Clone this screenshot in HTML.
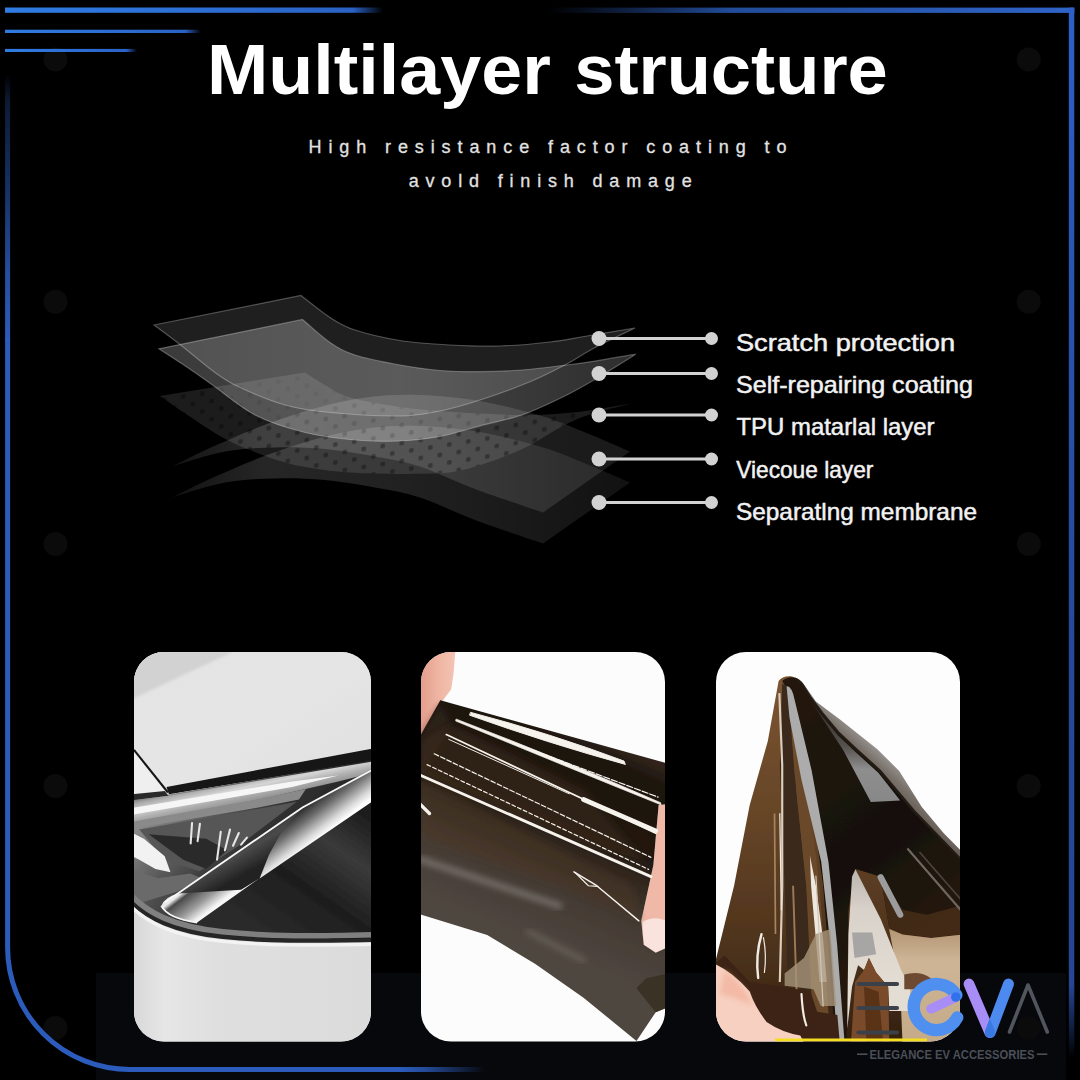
<!DOCTYPE html>
<html lang="en">
<head>
<meta charset="utf-8">
<title>Multilayer structure</title>
<style>
html,body{margin:0;padding:0;background:#000;}
body{width:1080px;height:1080px;overflow:hidden;position:relative;font-family:"Liberation Sans",sans-serif;}
svg{position:absolute;left:0;top:0;display:block;}
text{font-family:"Liberation Sans",sans-serif;}
</style>
</head>
<body>
<svg id="stage" width="1080" height="1080" viewBox="0 0 1080 1080">
<defs>
  <linearGradient id="gTopL" x1="0" x2="1" y1="0" y2="0"><stop offset="0" stop-color="#2f7ce2"/><stop offset="0.6" stop-color="#2d6cd2"/><stop offset="0.92" stop-color="#2a62c4"/><stop offset="1" stop-color="#2a62c4" stop-opacity="0"/></linearGradient>
  <linearGradient id="gTopR" x1="0" x2="1" y1="0" y2="0"><stop offset="0" stop-color="#2a5fc0" stop-opacity="0"/><stop offset="0.35" stop-color="#2a5fc0" stop-opacity="0.8"/><stop offset="1" stop-color="#2f64c8"/></linearGradient>
  <linearGradient id="gLeft" x1="0" x2="0" y1="0" y2="1"><stop offset="0" stop-color="#2b5cbc" stop-opacity="0"/><stop offset="0.1" stop-color="#2b5cbc" stop-opacity="0.28"/><stop offset="0.45" stop-color="#2b5cbc" stop-opacity="0.55"/><stop offset="0.75" stop-color="#2b5cbc" stop-opacity="0.85"/><stop offset="1" stop-color="#2b5cbc"/></linearGradient>
  <linearGradient id="gBot" x1="0" x2="1" y1="0" y2="0"><stop offset="0" stop-color="#2b5cbc"/><stop offset="0.3" stop-color="#2b5cbc" stop-opacity="0.8"/><stop offset="1" stop-color="#2b5cbc" stop-opacity="0"/></linearGradient>
  <linearGradient id="gRight" x1="0" x2="0" y1="0" y2="1"><stop offset="0" stop-color="#2e5fc8"/><stop offset="0.3" stop-color="#2a52ac"/><stop offset="0.6" stop-color="#27489a"/><stop offset="0.93" stop-color="#264694"/><stop offset="1" stop-color="#264694" stop-opacity="0"/></linearGradient>
  <clipPath id="c1"><rect x="134" y="652" width="237" height="389.500" rx="30" ry="30"/></clipPath>
  <clipPath id="c2"><rect x="421" y="652" width="244" height="389.500" rx="30" ry="30"/></clipPath>
  <clipPath id="c3"><rect x="716" y="652" width="244" height="389.500" rx="30" ry="30"/></clipPath>
</defs>

<!-- background -->
<rect width="1080" height="1080" fill="#000"/>
<rect x="96" y="973" width="970" height="107" fill="#07080c"/>

<!-- faint dots -->
<g fill="#0b0b0b">
  <circle cx="55.500" cy="59.5" r="12"/><circle cx="55.500" cy="301.8" r="12"/><circle cx="55.500" cy="544" r="12"/><circle cx="55.500" cy="786" r="12"/><circle cx="55.500" cy="1028" r="12"/>
  <circle cx="1028.700" cy="59.5" r="12"/><circle cx="1028.700" cy="301.8" r="12"/><circle cx="1028.700" cy="544" r="12"/><circle cx="1028.700" cy="786" r="12"/><circle cx="1028.700" cy="1028" r="12"/>
</g>

<!-- FRAME -->
<g id="frame">
  <rect x="5" y="7.500" width="378" height="5.300" fill="url(#gTopL)"/>
  <rect x="5" y="29.700" width="196" height="3.300" fill="url(#gTopL)"/>
  <rect x="5" y="48.900" width="132" height="3.100" fill="url(#gTopL)"/>
  <rect x="548" y="7.600" width="526.300" height="5.300" fill="url(#gTopR)"/>
  <rect x="1068.800" y="7.600" width="5.500" height="1051" fill="url(#gRight)"/>
  <rect x="5.100" y="74" width="5" height="268" fill="url(#gLeft)"/>
  <path d="M7.600 340 V947.500 A122 122 0 0 0 129.600 1069.500 H400" fill="none" stroke="#2b5cbc" stroke-width="5"/>
  <rect x="399" y="1067" width="86" height="5" fill="url(#gBot)"/>
</g>

<!-- TITLE -->
<text id="title" y="94" font-size="70" font-weight="700" fill="#fff"><tspan x="207" textLength="343.800" lengthAdjust="spacingAndGlyphs">Multilayer</tspan> <tspan x="574.200" textLength="313.600" lengthAdjust="spacingAndGlyphs">structure</tspan></text>
<text id="sub1" x="308.500" y="152.500" font-size="18" fill="#e2e2e2" stroke="#e2e2e2" stroke-width="0.300" textLength="478" lengthAdjust="spacing">High resistance factor coating to</text>
<text id="sub2" x="408.700" y="186.500" font-size="18" fill="#e2e2e2" stroke="#e2e2e2" stroke-width="0.300" textLength="283" lengthAdjust="spacing">avold finish damage</text>

<!-- LAYERS -->
<g id="layers">
<defs>
<pattern id="dots" x="0" y="0" width="19" height="18" patternUnits="userSpaceOnUse" patternTransform="translate(160 396) skewY(-9)">
 <rect width="19" height="18" fill="#fff" fill-opacity="0.11"/>
 <rect x="2" y="2" width="4.6" height="4.6" rx="1.5" fill="#000" fill-opacity="0.33"/>
 <rect x="11.5" y="11" width="4.6" height="4.6" rx="1.5" fill="#000" fill-opacity="0.33"/>
</pattern>
<linearGradient id="gL5" gradientUnits="userSpaceOnUse" x1="173" y1="0" x2="630" y2="0"><stop offset="0" stop-color="#fff" stop-opacity="0.07"/><stop offset="0.2" stop-color="#fff" stop-opacity="0.15"/><stop offset="0.5" stop-color="#fff" stop-opacity="0.13"/><stop offset="1" stop-color="#fff" stop-opacity="0.07"/></linearGradient>
<linearGradient id="gL4" gradientUnits="userSpaceOnUse" x1="173" y1="0" x2="630" y2="0"><stop offset="0" stop-color="#fff" stop-opacity="0.08"/><stop offset="0.2" stop-color="#fff" stop-opacity="0.16"/><stop offset="0.5" stop-color="#fff" stop-opacity="0.13"/><stop offset="1" stop-color="#fff" stop-opacity="0.10"/></linearGradient>
<linearGradient id="gL2" gradientUnits="userSpaceOnUse" x1="160" y1="0" x2="636" y2="0"><stop offset="0" stop-color="#fff" stop-opacity="0.23"/><stop offset="0.5" stop-color="#fff" stop-opacity="0.27"/><stop offset="1" stop-color="#fff" stop-opacity="0.18"/></linearGradient>
<filter id="soft" x="-5%" y="-5%" width="110%" height="110%"><feGaussianBlur stdDeviation="0.6"/></filter>
</defs>
<g filter="url(#soft)">
<path d="M173.0 497.0 C181.7 494.6 208.0 485.6 225.0 482.5 C242.0 479.4 258.3 478.9 275.0 478.5 C291.7 478.1 308.3 478.5 325.0 480.0 C341.7 481.5 359.2 484.6 375.0 487.5 C390.8 490.4 403.3 492.1 420.0 497.5 C436.7 502.9 454.5 512.3 475.0 520.0 C495.5 527.7 531.7 539.6 543.0 543.5 L630.0 482.5 C622.2 479.2 597.5 468.3 583.0 462.5 C568.5 456.7 560.2 452.6 543.0 447.5 C525.8 442.4 500.5 435.6 480.0 432.0 C459.5 428.4 438.3 426.7 420.0 426.0 C401.7 425.3 386.7 426.0 370.0 428.0 C353.3 430.0 337.2 433.5 320.0 438.0 C302.8 442.5 285.0 448.3 267.0 455.0 C249.0 461.7 227.7 471.0 212.0 478.0 C196.3 485.0 179.5 493.8 173.0 497.0 Z" fill="url(#gL5)"/>
<path d="M173.0 466.0 C181.7 463.6 208.0 454.6 225.0 451.5 C242.0 448.4 258.3 447.9 275.0 447.5 C291.7 447.1 308.3 447.5 325.0 449.0 C341.7 450.5 359.2 453.6 375.0 456.5 C390.8 459.4 403.3 461.1 420.0 466.5 C436.7 471.9 454.5 481.3 475.0 489.0 C495.5 496.7 531.7 508.6 543.0 512.5 L630.0 451.5 C622.2 448.2 597.5 437.3 583.0 431.5 C568.5 425.7 560.2 421.6 543.0 416.5 C525.8 411.4 500.5 404.6 480.0 401.0 C459.5 397.4 438.3 395.7 420.0 395.0 C401.7 394.3 386.7 395.0 370.0 397.0 C353.3 399.0 337.2 402.5 320.0 407.0 C302.8 411.5 285.0 417.3 267.0 424.0 C249.0 430.7 227.7 440.0 212.0 447.0 C196.3 454.0 179.5 462.8 173.0 466.0 Z" fill="url(#gL4)"/>
<path d="M160.0 396.0 L305.0 372.5 C308.3 374.6 317.5 380.8 325.0 385.0 C332.5 389.2 337.5 393.8 350.0 397.5 C362.5 401.2 385.0 404.8 400.0 407.0 C415.0 409.2 426.7 409.9 440.0 411.0 C453.3 412.1 465.0 412.8 480.0 413.5 C495.0 414.2 513.3 415.3 530.0 415.0 C546.7 414.7 563.0 413.6 580.0 411.7 C597.0 409.8 623.1 404.7 631.7 403.3 C622.2 406.1 593.6 412.2 575.0 420.0 C556.4 427.8 538.8 441.7 520.0 450.0 C501.2 458.3 479.2 466.0 462.5 470.0 C445.8 474.0 438.8 473.3 420.0 473.8 C401.2 474.2 370.0 473.8 350.0 472.5 C330.0 471.2 314.6 468.9 300.0 466.0 C285.4 463.1 275.0 459.5 262.5 455.0 C250.0 450.5 237.5 445.4 225.0 438.8 C212.5 432.1 198.3 422.1 187.5 415.0 C176.7 407.9 164.6 399.2 160.0 396.0 Z" fill="url(#dots)"/>
<path d="M158.8 348.8 L302.5 319.5 C307.1 323.3 321.2 336.6 330.0 342.5 C338.8 348.4 343.3 351.2 355.0 355.0 C366.7 358.8 385.8 362.4 400.0 365.0 C414.2 367.6 426.7 369.4 440.0 370.5 C453.3 371.6 466.4 371.8 480.0 371.7 C493.6 371.6 507.3 371.1 521.7 370.0 C536.2 368.9 554.2 366.5 566.7 365.0 C579.2 363.5 585.2 362.6 596.7 360.8 C608.2 359.0 629.3 355.3 635.8 354.2 C629.3 358.2 608.8 371.2 596.7 378.3 C584.6 385.4 575.8 390.6 563.3 396.7 C550.8 402.8 535.6 410.1 521.7 415.0 C507.8 419.9 493.6 422.2 480.0 425.8 C466.4 429.4 453.3 434.0 440.0 436.5 C426.7 439.0 414.2 440.4 400.0 441.0 C385.8 441.6 370.8 441.4 355.0 440.0 C339.2 438.6 321.7 436.7 305.0 432.5 C288.3 428.3 270.4 422.9 255.0 415.0 C239.6 407.1 223.8 392.9 212.5 385.0 C201.2 377.1 196.5 373.5 187.5 367.5 C178.5 361.5 163.5 351.9 158.8 348.8 Z" fill="url(#gL2)" stroke="#fff" stroke-opacity="0.28" stroke-width="1.2"/>
<path d="M154.0 325.0 L301.0 295.5 C305.8 299.2 321.0 311.8 330.0 317.5 C339.0 323.2 343.3 326.2 355.0 330.0 C366.7 333.8 384.2 338.0 400.0 340.5 C415.8 343.0 433.3 344.1 450.0 345.0 C466.7 345.9 483.3 346.5 500.0 346.0 C516.7 345.5 535.5 343.7 550.0 342.0 C564.5 340.3 572.8 338.3 587.0 336.0 C601.2 333.7 627.0 329.3 635.0 328.0 C628.3 331.2 606.4 341.5 595.0 347.5 C583.6 353.5 577.5 358.3 566.7 364.0 C555.9 369.7 544.5 375.7 530.0 381.7 C515.5 387.7 495.0 395.1 480.0 400.0 C465.0 404.9 453.3 408.3 440.0 411.0 C426.7 413.7 418.3 415.8 400.0 416.0 C381.7 416.2 349.2 414.3 330.0 412.5 C310.8 410.7 300.0 409.2 285.0 405.0 C270.0 400.8 251.7 392.9 240.0 387.5 C228.3 382.1 225.0 379.7 215.0 372.5 C205.0 365.3 190.2 352.4 180.0 344.5 C169.8 336.6 158.3 328.2 154.0 325.0 Z" fill="#fff" fill-opacity="0.12" stroke="#fff" stroke-opacity="0.28" stroke-width="1.2"/>
</g>
</g>


<!-- CONNECTORS -->
<g id="conn" stroke="#d2d2d2" stroke-width="3" fill="#d2d2d2">
  <line x1="599" y1="338.500" x2="711" y2="338.500"/><circle cx="599" cy="338.500" r="7.500" stroke="none"/><circle cx="711.500" cy="338.500" r="6.500" stroke="none"/>
  <line x1="599" y1="373.500" x2="711" y2="373.500"/><circle cx="599" cy="373.500" r="7.500" stroke="none"/><circle cx="711.500" cy="373.500" r="6.500" stroke="none"/>
  <line x1="599" y1="415" x2="711" y2="415"/><circle cx="599" cy="415" r="7.500" stroke="none"/><circle cx="711.500" cy="415" r="6.500" stroke="none"/>
  <line x1="599" y1="459" x2="711" y2="459"/><circle cx="599" cy="459" r="7.500" stroke="none"/><circle cx="711.500" cy="459" r="6.500" stroke="none"/>
  <line x1="599" y1="502.500" x2="711" y2="502.500"/><circle cx="599" cy="502.500" r="7.500" stroke="none"/><circle cx="711.500" cy="502.500" r="6.500" stroke="none"/>
</g>

<!-- LABELS -->
<g id="labels" font-size="24" fill="#f2f2f2" stroke="#f2f2f2" stroke-width="0.500">
  <text x="736" y="351" textLength="219" lengthAdjust="spacingAndGlyphs">Scratch protection</text>
  <text x="736" y="392.500" textLength="237" lengthAdjust="spacingAndGlyphs">Self-repairing coating</text>
  <text x="736.500" y="434.500" textLength="198" lengthAdjust="spacingAndGlyphs">TPU matarlal layer</text>
  <text x="736.300" y="478" textLength="137" lengthAdjust="spacingAndGlyphs">Viecoue layer</text>
  <text x="736" y="519.500" textLength="241" lengthAdjust="spacingAndGlyphs">Separatlng membrane</text>
</g>

<!-- CARD 1 -->
<g id="card1" clip-path="url(#c1)">
  <defs>
    <linearGradient id="c1body" x1="0" y1="0" x2="1" y2="1"><stop offset="0" stop-color="#e4e4e4"/><stop offset="0.5" stop-color="#e5e5e5"/><stop offset="1" stop-color="#dedede"/></linearGradient>
    <linearGradient id="c1bump" x1="0" y1="0" x2="1" y2="0"><stop offset="0" stop-color="#d6d6d6"/><stop offset="0.14" stop-color="#e6e6e6"/><stop offset="0.35" stop-color="#dfdfdf"/><stop offset="1" stop-color="#dbdbdb"/></linearGradient>
    <linearGradient id="c1lamp" gradientUnits="userSpaceOnUse" x1="100" y1="350" x2="700" y2="900"><stop offset="0" stop-color="#8a8a8a"/><stop offset="0.25" stop-color="#5a5a5a"/><stop offset="0.5" stop-color="#303030"/><stop offset="1" stop-color="#1c1c1c"/></linearGradient>
    <linearGradient id="c1chrome" gradientUnits="userSpaceOnUse" x1="500" y1="190" x2="530" y2="330"><stop offset="0" stop-color="#6c6c6c"/><stop offset="0.18" stop-color="#a8a8a8"/><stop offset="0.4" stop-color="#d6d6d6"/><stop offset="0.62" stop-color="#b0b0b0"/><stop offset="1" stop-color="#7c7c7c"/></linearGradient>
    <linearGradient id="c1rib" gradientUnits="userSpaceOnUse" x1="700" y1="330" x2="830" y2="500"><stop offset="0" stop-color="#f4f4f4"/><stop offset="0.08" stop-color="#f4f4f4"/><stop offset="0.16" stop-color="#2c2c2c"/><stop offset="0.4" stop-color="#6e6e6e"/><stop offset="0.7" stop-color="#d8d8d8"/><stop offset="0.85" stop-color="#ffffff"/><stop offset="1" stop-color="#f0f0f0"/></linearGradient>
    <linearGradient id="c1rib2" gradientUnits="userSpaceOnUse" x1="230" y1="700" x2="330" y2="830"><stop offset="0" stop-color="#e8e8e8"/><stop offset="0.12" stop-color="#4a4a4a"/><stop offset="0.5" stop-color="#9a9a9a"/><stop offset="0.8" stop-color="#f4f4f4"/><stop offset="1" stop-color="#ffffff"/></linearGradient>
    <linearGradient id="c1inner" gradientUnits="userSpaceOnUse" x1="380" y1="480" x2="470" y2="640"><stop offset="0" stop-color="#2a2a2a"/><stop offset="0.5" stop-color="#4a4a4a"/><stop offset="1" stop-color="#222"/></linearGradient>
    <linearGradient id="c1dark" gradientUnits="userSpaceOnUse" x1="1000" y1="330" x2="600" y2="900"><stop offset="0" stop-color="#1a1a1a"/><stop offset="0.3" stop-color="#3a3a3a"/><stop offset="0.6" stop-color="#1e1e1e"/><stop offset="1" stop-color="#2a2a2a"/></linearGradient>
    <filter id="b1" x="-5%" y="-5%" width="110%" height="110%"><feGaussianBlur stdDeviation="2.4"/></filter>
    <filter id="b1s" x="-5%" y="-5%" width="110%" height="110%"><feGaussianBlur stdDeviation="6"/></filter>
  </defs>
  <rect x="134" y="652" width="237" height="390" fill="#e0e0e0"/>
  <g transform="translate(130 730) scale(0.231481)">
    <!-- body upper -->
    <rect x="0" y="-340" width="1060" height="700" fill="url(#c1body)"/>
    <path d="M0 -340 L450 -340 L0 -130 Z" fill="#d2d2d2" filter="url(#b1s)"/>
    <!-- bumper -->
    <rect x="0" y="700" width="1060" height="660" fill="url(#c1bump)"/>
    <g filter="url(#b1)">
      <!-- fender (left of hood edge) -->
      <path d="M0 60 L17 88 L160 268 L150 300 L0 310 Z" fill="#efefef"/>
      <!-- hood gap dark band -->
      <path d="M158 246 L1060 78 L1060 132 L168 278 Z" fill="#151515"/>
      <path d="M17 86 L164 270" stroke="#161616" stroke-width="9" fill="none"/>
      <!-- lamp body -->
      <path d="M0 300 L160 280 L1060 128 L1060 905 C800 912 600 915 400 893 C190 870 70 812 -10 725 Z" fill="url(#c1lamp)"/>
      <!-- top-left dark strip of lamp -->
      <path d="M0 278 L150 264 L166 284 L0 306 Z" fill="#2a2a2a"/>
      <!-- chrome band -->
      <path d="M0 305 L166 284 L1060 134 L1060 182 L900 222 L560 300 L0 405 Z" fill="url(#c1chrome)"/>
      <path d="M0 338 L700 222 L900 197 L700 246 L0 368 Z" fill="#f6f6f6"/>
      <path d="M0 398 L560 298 L760 255 L730 300 L500 345 L0 428 Z" fill="#8a8a8a"/>
      <!-- interior mid-grey left zone -->
      <path d="M40 430 L500 350 L720 310 L470 500 L300 610 L150 560 Z" fill="#575757"/>
      <path d="M80 450 L330 470 L420 520 L330 600 L230 560 Z" fill="#2c2c2c"/>
      <!-- left white reflection blob -->
      <path d="M0 440 L60 470 L150 545 L175 615 L110 600 L40 560 L0 540 Z" fill="#f2f2f2"/>
      <path d="M0 600 L120 640 L260 620 L310 640 L200 700 L0 760 Z" fill="#6a6a6a"/>
      <!-- little vertical strokes -->
      <g stroke="#e6e6e6" stroke-width="9" fill="none" stroke-linecap="round">
        <path d="M268 402 L262 490"/><path d="M302 405 L292 480"/>
        <path d="M392 440 L376 560"/><path d="M432 430 L410 520"/><path d="M470 445 L445 500"/><path d="M505 465 L480 495"/>
      </g>
      <!-- dark right/lower lens zone -->
      <path d="M560 640 L1060 300 L1060 890 C800 895 600 895 400 876 L300 855 L280 830 Z" fill="url(#c1dark)"/>
      <!-- film inner (dark) surface -->
      <path d="M200 705 L745 335 L640 470 L560 640 L480 690 Z" fill="url(#c1inner)"/>
      <!-- wide bright ribbon -->
      <path d="M560 642 L600 540 L660 430 L750 332 L1060 160 L1060 300 Z" fill="url(#c1rib)"/>
      <!-- lower-left ribbon -->
      <path d="M135 760 Q150 720 210 706 L480 690 L560 640 L290 832 Q160 815 135 760 Z" fill="url(#c1rib2)"/>
      <!-- white edge lines -->
      <path d="M150 745 L745 335 L1060 165" stroke="#f8f8f8" stroke-width="8" fill="none"/>
      <path d="M135 760 Q165 815 290 832" stroke="#f4f4f4" stroke-width="8" fill="none"/>
      <!-- bottom rim -->
      <path d="M-10 700 C70 790 190 850 400 872 S800 890 1060 884" stroke="#808080" stroke-width="24" fill="none"/>
      <path d="M-10 728 C70 815 190 873 400 895 S800 912 1060 908" stroke="#262626" stroke-width="16" fill="none"/>
      <path d="M-10 748 C70 834 190 892 400 913 S800 930 1060 926" stroke="#f3f3f3" stroke-width="14" fill="none"/>
    </g>
  </g>
</g>

<!-- CARD 2 -->
<g id="card2" clip-path="url(#c2)">
  <defs>
    <linearGradient id="c2film" gradientUnits="userSpaceOnUse" x1="620" y1="330" x2="270" y2="1130"><stop offset="0" stop-color="#30241a"/><stop offset="0.08" stop-color="#1d150f"/><stop offset="0.42" stop-color="#211811"/><stop offset="0.55" stop-color="#33291f"/><stop offset="0.72" stop-color="#433a32"/><stop offset="1" stop-color="#4e463f"/></linearGradient>
    <linearGradient id="c2skin" x1="0" y1="0" x2="1" y2="0"><stop offset="0" stop-color="#e39c8a"/><stop offset="0.5" stop-color="#efb4a2"/><stop offset="1" stop-color="#f3c4b4"/></linearGradient>
    <filter id="b2" x="-5%" y="-5%" width="110%" height="110%"><feGaussianBlur stdDeviation="3"/></filter>
    <filter id="b2s" x="-10%" y="-10%" width="120%" height="120%"><feGaussianBlur stdDeviation="14"/></filter>
  </defs>
  <rect x="421" y="652" width="244" height="390" fill="#fcfcfc"/>
  <g transform="translate(415 645) scale(0.240741)">
    <g filter="url(#b2)">
      <!-- top-left finger -->
      <path d="M20 20 L168 20 L160 120 L150 185 L108 240 L20 380 Z" fill="url(#c2skin)"/>
      <!-- right finger -->
      <path d="M1050 640 L1012 665 L1000 800 L990 915 L940 1145 L950 1245 L1000 1278 L1050 1255 Z" fill="#f0b8a6"/>
      <path d="M945 1150 Q1000 1120 1050 1150 L1050 1255 L1000 1278 L950 1245 Z" fill="#f9e3dc"/>
      <!-- film -->
      <path d="M105 230 L1050 492 L1050 660 L1012 665 L1000 800 L990 915 L940 1145 L950 1245 L1000 1278 L1050 1255 L1050 1505 L1000 1525 L920 1645 L700 1465 L500 1325 L300 1205 L20 1118 L20 380 Z" fill="url(#c2film)"/>
      <!-- brown sheen in lower-left upper area -->
      <path d="M20 560 L500 800 L900 1000 L940 1145 L600 1000 L20 800 Z" fill="#4a3424" fill-opacity="0.45" filter="url(#b2s)"/>
      <path d="M20 380 L105 240 L150 330 L20 560 Z" fill="#3a2a1e" fill-opacity="0.5" filter="url(#b2s)"/>
      <path d="M60 380 L160 330 L700 600 L960 900 L700 820 L20 540 L20 420 Z" fill="#4a3220" fill-opacity="0.35" filter="url(#b2s)"/>
      <!-- notch -->
      <path d="M920 1425 L960 1385 L1050 1365 L1050 1505 L1000 1525 L935 1445 Z" fill="#3a3028"/>
      <!-- crease band -->
      <path d="M20 890 L600 1083" stroke="#9a9894" stroke-opacity="0.55" stroke-width="26" fill="none" stroke-linecap="round" filter="url(#b2s)"/>
      <path d="M470 1190 L700 1310" stroke="#8a8680" stroke-opacity="0.4" stroke-width="22" fill="none" stroke-linecap="round" filter="url(#b2s)"/>
      <!-- streaks -->
      <g stroke="#f6f2ec" fill="none" stroke-linecap="round">
        <path d="M232 280 Q560 366 868 482 L874 496 Q560 410 228 292 Z" stroke-width="4" stroke-linejoin="round" fill="#f6f2ec"/>
        <path d="M172 308 Q640 488 1020 655 L1022 664 Q640 510 170 316 Z" stroke-width="3" stroke-linejoin="round" fill="#f6f2ec"/>
        <path d="M370 392 L1010 632" stroke-width="5" stroke-dasharray="26 8"/>
        <path d="M130 372 L1000 782" stroke-width="7"/>
        <path d="M140 392 L640 618" stroke-width="4"/>
        <path d="M700 642 L1000 772" stroke-width="20"/>
        <path d="M80 452 L980 882" stroke-width="5" stroke-dasharray="20 9"/>
        <path d="M50 497 L970 932" stroke-width="5" stroke-dasharray="16 10"/>
        <path d="M20 540 L980 962" stroke-width="12"/>
        <path d="M660 942 L750 996 L930 1146" stroke-width="6"/>
        <path d="M665 945 L720 1000 L760 1003" stroke-width="5"/>
        <path d="M20 660 L60 700" stroke-width="14"/>
      </g>
    </g>
  </g>
</g>

<!-- CARD 3 -->
<g id="card3" clip-path="url(#c3)">
  <defs>
    <linearGradient id="c3brown" gradientUnits="userSpaceOnUse" x1="0" y1="150" x2="0" y2="1650"><stop offset="0" stop-color="#7a5431"/><stop offset="0.4" stop-color="#644426"/><stop offset="0.75" stop-color="#4c321c"/><stop offset="1" stop-color="#33200f"/></linearGradient>
    <linearGradient id="c3dark" gradientUnits="userSpaceOnUse" x1="400" y1="300" x2="1000" y2="1100"><stop offset="0" stop-color="#20160f"/><stop offset="0.6" stop-color="#15100b"/><stop offset="1" stop-color="#231710"/></linearGradient>
    <linearGradient id="c3edge" gradientUnits="userSpaceOnUse" x1="690" y1="560" x2="770" y2="470"><stop offset="0" stop-color="#665e57"/><stop offset="0.45" stop-color="#7a736c"/><stop offset="0.85" stop-color="#989390"/><stop offset="1" stop-color="#c8c5c2"/></linearGradient>
    <linearGradient id="c3tri" gradientUnits="userSpaceOnUse" x1="0" y1="930" x2="0" y2="1420"><stop offset="0" stop-color="#b9b4ae"/><stop offset="0.35" stop-color="#d9d2ca"/><stop offset="1" stop-color="#e4ddd4"/></linearGradient>
    <linearGradient id="c3beige" gradientUnits="userSpaceOnUse" x1="0" y1="1200" x2="0" y2="1650"><stop offset="0" stop-color="#b79a78"/><stop offset="0.25" stop-color="#cdb596"/><stop offset="1" stop-color="#c4aa88"/></linearGradient>
    <linearGradient id="c3sheen" gradientUnits="userSpaceOnUse" x1="0" y1="232" x2="0" y2="650"><stop offset="0" stop-color="#2a2622"/><stop offset="0.45" stop-color="#55514d"/><stop offset="0.68" stop-color="#8e8e8e"/><stop offset="1" stop-color="#888888"/></linearGradient>
    <filter id="b3" x="-5%" y="-5%" width="110%" height="110%"><feGaussianBlur stdDeviation="3"/></filter>
    <filter id="b3s" x="-10%" y="-10%" width="120%" height="120%"><feGaussianBlur stdDeviation="12"/></filter>
  </defs>
  <rect x="716" y="652" width="244" height="390" fill="#fdfdfd"/>
  <g transform="translate(710 645) scale(0.240741)">
    <g filter="url(#b3)">
      <!-- translucent right edge band -->
      <path d="M330 132 Q372 135 395 170 L440 235 L540 309 L694 432 L786 523 L879 672 L971 782 L1050 862 L1050 1010 L700 660 L420 300 Z" fill="url(#c3edge)"/>
      <!-- film silhouette base (brown) -->
      <path d="M285 150 Q300 128 335 130 Q362 134 383 164 L415 215 L466 284 L531 362 L605 432 L706 523 L847 690 L1032 881 L1050 900 L1050 1660 L300 1660 L200 1545 L150 1445 L20 1325 L100 1000 L165 665 L240 400 Z" fill="url(#c3brown)"/>
      <!-- big dark region -->
      <path d="M300 150 Q330 125 358 140 Q372 146 383 164 L415 215 L466 284 L531 362 L605 432 L706 523 L847 690 L1032 881 L1050 900 L1050 1201 L919 1215 L800 1201 L744 1173 L709 963 L604 930 L575 1100 L568 1640 L520 1640 L470 1000 L400 500 L330 200 Z" fill="url(#c3dark)"/>
      <!-- dark band left of grey highlight -->
      <path d="M300 160 L325 180 L350 520 L400 1000 L440 1640 L330 1640 L310 1000 L290 500 Z" fill="#3a2a1b"/>
      <!-- brown wedge between -->
      <path d="M360 430 L400 560 L455 1000 L500 1640 L430 1640 L400 1000 L358 600 Z" fill="#6b4a2b"/>
      <!-- grey highlight band -->
      <path d="M318 170 Q342 172 352 230 L422 520 L492 900 L528 1243 L558 1640 L528 1640 L500 1243 L462 900 L380 560 L330 300 Z" fill="#acacac"/>
      <!-- thin light streak left -->
      <path d="M288 200 L300 500 L300 1000 L290 1400" stroke="#dccdbd" stroke-width="9" fill="none"/>
      <path d="M268 700 L272 1200" stroke="#a8845c" stroke-width="7" fill="none"/>
      <path d="M345 1000 L360 1450" stroke="#9c7a54" stroke-width="8" fill="none"/>
      <!-- grey triangle highlight -->
      <path d="M418 232 L470 300 L531 375 L600 440 L700 532 L790 646 L668 652 L553 436 Z" fill="url(#c3sheen)"/>
      <path d="M352 140 Q372 146 383 164 L415 215 L466 284 L531 362 L605 432 L706 523 L847 690 L1050 900" stroke="#241a12" stroke-width="11" fill="none"/>
      <!-- brown transitional zone lower right of dark -->
      <path d="M709 963 L744 1173 L800 1201 L919 1215 L1050 1201 L1050 1080 L900 1120 L800 1100 Z" fill="#4a2e18" fill-opacity="0.8"/>
      <!-- right side sheen lines -->
      <path d="M820 845 L1045 1105" stroke="#6f6761" stroke-width="9" fill="none"/>
      <path d="M870 860 L1045 1060" stroke="#4c443e" stroke-width="7" fill="none"/>
      <path d="M709 965 L790 1120" stroke="#9c9c9c" stroke-width="26" fill="none" stroke-linecap="round"/>
      <!-- lower right beige -->
      <path d="M744 1180 L800 1203 L919 1217 L1050 1203 L1050 1660 L800 1660 L790 1420 Z" fill="url(#c3beige)"/>
      <!-- light triangle -->
      <path d="M604 932 L709 1138 L793 1348 L830 1420 L835 1520 L745 1520 L740 1420 L690 1360 L660 1300 L640 1350 L615 1330 L590 1420 L570 1594 L575 1200 L590 963 Z" fill="url(#c3tri)"/>
      <path d="M590 1194 L674 1194 L690 1285 L600 1300 Z" fill="#9a9a9a" fill-opacity="0.8"/>
      <!-- brown below triangle -->
      <path d="M603 1400 L640 1350 L660 1300 L690 1360 L740 1420 L745 1660 L585 1660 Z" fill="#7a4c2c"/>
      <path d="M640 1420 L700 1440 L720 1660 L650 1660 Z" fill="#5a3218"/>
      <path d="M807 1369 Q870 1350 919 1385 L919 1430 L807 1430 Z" fill="#6e4a30"/>
      <!-- white highlight narrow wedge -->
      <path d="M415 875 L440 1000 L470 1225 L485 1400 L455 1400 L440 1225 L420 1000 Z" fill="#efe8de"/>
      <!-- lower-centre beige window -->
      <path d="M310 1365 L390 1300 L440 1200 L500 1180 L525 1500 L460 1500 L430 1430 L310 1415 Z" fill="#a8957a" fill-opacity="0.8"/>
      <!-- lower-left dark brown -->
      <path d="M60 1290 L165 1400 L291 1418 L417 1439 L445 1523 L529 1537 L540 1660 L300 1660 L200 1545 L150 1445 L20 1325 Z" fill="#3d2412"/>
      <!-- highlight strokes -->
      <g stroke="#f0ebe4" fill="none" stroke-linecap="round">
        <path d="M214 1201 Q188 1290 200 1383" stroke-width="10"/>
        <path d="M222 1215 Q236 1290 226 1360" stroke-width="5"/>
        <path d="M380 1450 Q385 1540 400 1580" stroke-width="9"/>
        <path d="M290 700 L296 1100" stroke-width="5"/>
        <path d="M440 960 L470 1500" stroke-width="5" stroke="#cfc6ba"/>
      </g>
      <!-- finger bottom-left -->
      <path d="M0 1300 L25 1327 Q95 1360 165 1439 Q185 1500 235 1566 Q300 1610 375 1622 L400 1670 L0 1670 Z" fill="#f7d0c1"/>
      <path d="M60 1350 Q150 1420 175 1500 Q120 1470 40 1450 Z" fill="#f0a890" fill-opacity="0.55" filter="url(#b3s)"/>
    </g>
  </g>
  <rect x="775" y="1038.500" width="152" height="3" fill="#f4de1f"/>
</g>


<!-- LOGO -->
<g id="logo">
  <defs>
    <clipPath id="vclip"><rect x="-5.400" y="-5.400" width="10.800" height="63.500" rx="5.400" transform="translate(969 984) rotate(-23.100)"/></clipPath>
  </defs>
  <g stroke="#3b4049" stroke-width="4.200" stroke-linecap="round" fill="none">
    <line x1="858.500" y1="984" x2="897" y2="984"/>
    <line x1="858.500" y1="1008" x2="897" y2="1008"/>
    <line x1="858.500" y1="1032.500" x2="897" y2="1032.500"/>
  </g>
  <!-- e ring -->
  <path d="M956.300 995 A23 23 0 1 0 957.200 1017.500" fill="none" stroke="#4f8ff0" stroke-width="12.400" stroke-linecap="round"/>
  <line x1="931" y1="1008.800" x2="955.500" y2="997.300" stroke="#a98df6" stroke-width="9.600" stroke-linecap="round"/>
  <circle cx="955.800" cy="997" r="4.800" fill="#2f72ea"/>
  <!-- V -->
  <line x1="969" y1="984" x2="989.700" y2="1032.500" stroke="#a98df6" stroke-width="10.800" stroke-linecap="round"/>
  <line x1="1008.500" y1="984" x2="990.300" y2="1032.500" stroke="#4c8af0" stroke-width="10.800" stroke-linecap="round"/>
  <line x1="1008.500" y1="984" x2="990.300" y2="1032.500" stroke="#3a78e2" stroke-width="10.800" stroke-linecap="round" clip-path="url(#vclip)"/>
  <!-- A -->
  <path d="M1009.500 1032 L1028 985 L1047.300 1032" fill="none" stroke="#50555e" stroke-width="3.600" stroke-linecap="round" stroke-linejoin="round"/>
  <!-- tagline -->
  <g stroke="#4a4f58" stroke-width="1.600"><line x1="857" y1="1054.200" x2="867.500" y2="1054.200"/><line x1="1036.800" y1="1054.200" x2="1047.300" y2="1054.200"/></g>
  <text x="869.500" y="1059" font-size="13.300" font-weight="700" fill="#4a4f58" textLength="165" lengthAdjust="spacingAndGlyphs">ELEGANCE EV ACCESSORIES</text>
</g>

</svg>
</body>
</html>
